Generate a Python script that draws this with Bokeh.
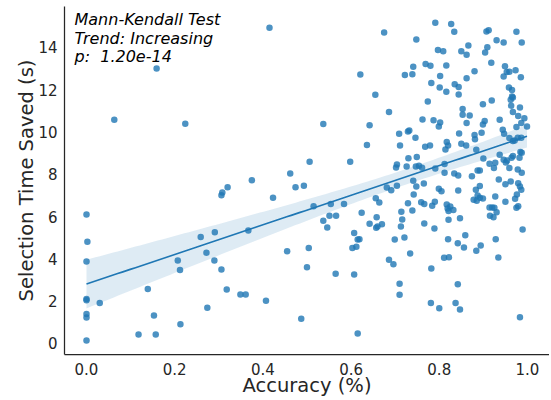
import numpy as np
from bokeh.plotting import figure
from bokeh.models import Label, FixedTicker, NumeralTickFormatter, Range1d
from bokeh.embed import file_html
from bokeh.resources import INLINE

# Accuracy (fraction) and selection time saved (s)
accuracy = [
    0.415, 0.159, 0.063, 0.224, 0.506, 0.462, 0.375, 0.0, 0.002, 0.0,
    0.0, 0.0, 0.030, 0.0, 0.0, 0.0, 0.118, 0.157, 0.153, 0.139,
    0.213, 0.207, 0.212, 0.274, 0.259, 0.272, 0.291, 0.290, 0.306, 0.318,
    0.306, 0.308, 0.320, 0.349, 0.361, 0.367, 0.407, 0.423, 0.474, 0.493,
    0.455, 0.487, 0.504, 0.500,
    0.675, 0.748, 0.621, 0.722, 0.739, 0.741, 0.769, 0.655, 0.686, 0.762,
    0.791, 0.827, 0.834, 0.907, 0.912, 0.975, 0.930, 0.946, 0.987, 0.866,
    0.850, 0.862, 0.909, 0.904, 0.797, 0.809, 0.780, 0.816, 0.918, 0.949,
    0.880, 0.953, 0.959, 0.973, 0.946, 0.985, 0.802, 0.862, 0.782, 0.835,
    0.844, 0.801, 0.816, 0.844, 0.958, 0.965, 0.965, 0.967, 0.962, 0.774,
    0.919, 0.899, 0.963, 0.853, 0.983, 0.967, 0.853, 0.869, 0.979, 0.993,
    0.787, 0.802, 0.903, 0.937,
    0.537, 0.642, 0.709, 0.729, 0.732, 0.746, 0.636, 0.711, 0.768, 0.598,
    0.730, 0.749, 0.704, 0.702, 0.726, 0.747, 0.754, 0.761, 0.741, 0.765,
    0.704, 0.681, 0.691, 0.748, 0.742, 0.656, 0.664, 0.759, 0.766, 0.729,
    0.515, 0.554, 0.584, 0.714, 0.739, 0.624, 0.551, 0.566, 0.537, 0.658,
    0.716, 0.546, 0.642, 0.657, 0.660, 0.670, 0.713, 0.766, 0.607, 0.615,
    0.619, 0.699, 0.721,
    0.603, 0.612, 0.734, 0.686, 0.696, 0.565, 0.607, 0.710, 0.710, 0.615,
    0.799, 0.862, 0.899, 0.944, 0.947, 0.975, 0.986, 0.999, 0.978, 0.986,
    0.959, 0.967, 0.971, 0.845, 0.880, 0.881, 0.896, 0.817, 0.820, 0.814,
    0.779, 0.850, 0.861, 0.884, 0.984, 0.987, 0.982, 0.967, 0.964, 0.937,
    0.900, 0.812, 0.791, 0.812, 0.946, 0.954, 0.951, 0.914, 0.927, 0.924,
    0.959, 0.978, 0.987, 0.887, 0.892, 0.834, 0.843, 0.874, 0.935, 0.950,
    0.962, 0.979, 0.983, 0.986, 0.892, 0.883, 0.799, 0.805, 0.843, 0.887,
    0.892, 0.899, 0.927, 0.878, 0.885, 0.976, 0.972, 0.979, 0.975, 0.950,
    0.790, 0.784, 0.817, 0.819, 0.825, 0.832, 0.821, 0.914, 0.920, 0.925,
    0.930, 0.915, 0.923, 0.847, 0.821, 0.789, 0.989, 0.859, 0.820, 0.928,
    0.842, 0.856, 0.894, 0.884, 0.811, 0.822, 0.934, 0.782, 0.842, 0.781,
    0.800, 0.837, 0.847, 0.983,
]
time_saved = [
    14.93, 13.00, 10.58, 10.39, 8.59, 8.04, 7.72, 6.10, 4.81, 3.88,
    2.10, 2.05, 1.92, 1.40, 1.23, 0.14, 0.43, 0.43, 1.32, 2.58,
    0.91, 3.92, 3.47, 1.69, 5.03, 4.29, 5.26, 3.92, 3.50, 2.55,
    7.01, 7.14, 7.39, 2.32, 2.32, 5.34, 2.02, 6.89, 7.39, 7.46,
    4.36, 1.17, 4.51, 3.61,
    14.70, 14.37, 12.72, 12.69, 12.73, 13.08, 13.21, 11.76, 10.94, 10.59,
    15.16, 15.10, 14.74, 14.75, 14.81, 14.74, 14.34, 14.23, 14.23, 14.09,
    13.81, 13.65, 14.00, 13.76, 13.87, 13.81, 13.13, 13.14, 13.27, 13.11,
    12.87, 12.83, 12.85, 12.92, 12.62, 12.58, 12.64, 12.54, 12.31, 12.26,
    12.12, 12.10, 11.90, 11.77, 12.10, 11.98, 11.68, 11.63, 11.52, 11.44,
    11.49, 11.31, 11.24, 11.08, 11.16, 10.94, 10.81, 10.78, 10.75, 10.65,
    10.55, 10.45, 10.52, 10.58,
    10.37, 10.32, 9.91, 10.02, 10.07, 9.73, 9.38, 9.36, 9.30, 8.59,
    8.76, 8.81, 8.46, 8.32, 8.37, 8.37, 8.40, 8.31, 7.69, 7.56,
    7.46, 7.38, 7.25, 7.42, 7.04, 6.87, 6.67, 6.68, 6.59, 6.63,
    6.49, 6.59, 6.59, 6.23, 6.29, 6.18, 6.04, 6.04, 5.80, 5.97,
    5.86, 5.48, 5.66, 5.47, 5.53, 5.64, 5.53, 5.67, 5.22, 4.92,
    4.93, 4.92, 5.01,
    4.52, 4.57, 4.26, 3.96, 3.75, 3.30, 3.26, 2.82, 2.30, 0.47,
    10.26, 10.42, 10.35, 10.10, 9.91, 10.23, 10.42, 10.26, 9.73, 9.73,
    9.71, 9.57, 9.60, 9.93, 9.85, 9.66, 9.96, 9.52, 9.36, 9.17,
    9.36, 9.44, 9.36, 9.16, 9.05, 9.02, 8.78, 8.86, 8.78, 8.92,
    8.75, 8.48, 8.27, 8.07, 8.69, 8.65, 8.56, 8.50, 8.54, 8.29,
    8.29, 8.23, 8.07, 8.18, 8.18, 8.04, 7.94, 7.91, 7.75, 7.53,
    7.66, 7.58, 7.42, 7.27, 7.44, 7.27, 7.31, 7.20, 7.23, 7.00,
    6.89, 6.86, 6.95, 6.79, 6.75, 7.04, 6.84, 6.49, 6.42, 6.70,
    6.70, 6.51, 6.57, 6.38, 6.48, 6.31, 6.26, 6.43, 6.43, 6.42,
    6.21, 6.04, 5.97, 5.92, 5.85, 5.44, 5.39, 5.12, 4.93, 4.93,
    4.74, 4.54, 4.63, 4.38, 4.05, 4.08, 4.07, 3.55, 2.80, 1.91,
    1.67, 1.91, 1.61, 1.24,
]
x_ticks = [0.0, 0.2, 0.4, 0.6, 0.8, 1.0]
y_ticks = [0, 2, 4, 6, 8, 10, 12, 14]
annotation = "Mann-Kendall Test\nTrend: Increasing\np: \u00a01.20e-14"
x_label = "Accuracy (%)"
y_label = "Selection Time Saved (s)"

FONT = "DejaVu Sans"
TXT = "#262626"
C0 = "#1f77b4"

x = np.array(accuracy)
y = np.array(time_saved)
n = len(x)

# linear regression with 95% confidence band
slope, intercept = np.polyfit(x, y, 1)
xs = np.linspace(x.min(), x.max(), 100)
ys = intercept + slope * xs
resid = y - (intercept + slope * x)
s = np.sqrt(np.sum(resid ** 2) / (n - 2))
sxx = np.sum((x - x.mean()) ** 2)
se = s * np.sqrt(1.0 / n + (xs - x.mean()) ** 2 / sxx)
t = 1.97
lo = ys - t * se
hi = ys + t * se

p = figure(
    width=549, height=400,
    x_range=Range1d(-0.0499, 1.05), y_range=Range1d(-0.52, 15.93),
    output_backend="svg", toolbar_location=None,
    min_border_left=64, min_border_right=0, min_border_top=6, min_border_bottom=46,
)
p.outline_line_color = None
p.xgrid.visible = False
p.ygrid.visible = False
p.background_fill_color = "white"
p.border_fill_color = "white"

p.scatter(x, y, size=6.5, fill_color=C0, fill_alpha=0.8, line_color=None)
p.varea(x=xs, y1=lo, y2=hi, fill_color=C0, fill_alpha=0.15)
p.line(xs, ys, line_color=C0, line_width=1.6)

for ax in (p.xaxis[0], p.yaxis[0]):
    ax.axis_line_color = TXT
    ax.axis_line_width = 1.25
    ax.major_tick_line_color = None
    ax.minor_tick_line_color = None
    ax.major_tick_out = 0
    ax.major_tick_in = 0
    ax.major_label_text_font = FONT
    ax.major_label_text_font_size = "15px"
    ax.major_label_text_color = TXT
    ax.axis_label_text_font = FONT
    ax.axis_label_text_font_size = "19.5px"
    ax.axis_label_text_font_style = "normal"
    ax.axis_label_text_color = TXT

p.xaxis.ticker = FixedTicker(ticks=x_ticks)
p.xaxis.formatter = NumeralTickFormatter(format="0.0")
p.yaxis.ticker = FixedTicker(ticks=y_ticks)
p.xaxis.axis_label = x_label
p.yaxis.axis_label = y_label
p.xaxis.major_label_standoff = 8
p.xaxis.axis_label_standoff = -4
p.yaxis.major_label_standoff = 7
p.yaxis.axis_label_standoff = -3

p.add_layout(Label(
    x=-0.0272, y=15.755, text=annotation,
    text_font=FONT, text_font_size="16px", text_font_style="italic",
    text_color="black", text_baseline="top", text_align="left",
    text_line_height=0.97,
))

open("out.html", "w").write(file_html(p, INLINE))
